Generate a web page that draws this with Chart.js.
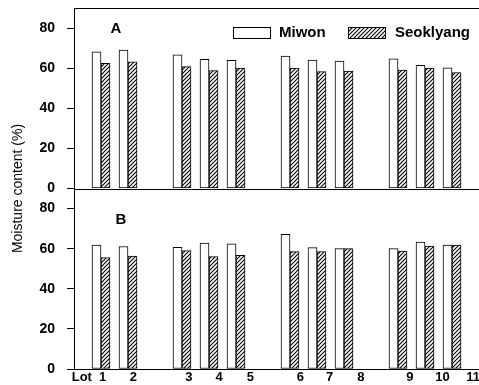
<!DOCTYPE html>
<html><head><meta charset="utf-8">
<script src="https://cdn.jsdelivr.net/npm/chart.js@4/dist/chart.umd.min.js"></script>
<style>html,body{margin:0;padding:0;background:#fff;}canvas{display:block;}</style>
</head><body>
<canvas id="c" width="479" height="385"></canvas>
<script>
// ---- data ----
const lots = ['1','2','3','4','5','6','7','8','9','10','11'];
const lotPositions = [1, 2, 4, 5, 6, 8, 9, 10, 12, 13, 14];
const miwonA      = [68.2, 69.0, 66.7, 64.4, 63.9, 66.0, 64.0, 63.5, 64.7, 61.4, 60.2];
const seoklyangA  = [62.4, 63.2, 60.8, 58.8, 60.0, 60.0, 58.3, 58.6, 59.0, 60.0, 57.8];
const miwonB      = [61.8, 61.1, 60.7, 62.8, 62.4, 67.2, 60.5, 60.0, 60.0, 63.3, 61.8];
const seoklyangB  = [55.5, 56.3, 59.1, 56.0, 56.7, 58.5, 58.5, 60.0, 58.8, 61.3, 61.8];
const xTickLabels = ['Lot','1','2','3','4','5','6','7','8','9','10','11'];
const yTickValues = [0, 20, 40, 60, 80];
const seriesNames = ['Miwon', 'Seoklyang'];
const panelNames = ['A', 'B'];
const yTitle = 'Moisture content (%)';

// ---- layout (label placement in x units) ----
const xTickPos = [0.29, 1.06, 2.2, 4.25, 5.37, 6.53, 8.38, 9.47, 10.62, 12.44, 13.65, 14.78];

const FONT = "'Liberation Sans', Arial, sans-serif";
const canvas = document.getElementById('c');
const mainCtx = canvas.getContext('2d');

function makeHatch() {
  const s = 4;
  const pc = document.createElement('canvas');
  pc.width = s; pc.height = s;
  const g = pc.getContext('2d');
  g.fillStyle = '#fff'; g.fillRect(0, 0, s, s);
  g.strokeStyle = '#000'; g.lineWidth = 1.1;
  g.beginPath();
  g.moveTo(0, s); g.lineTo(s, 0);
  g.moveTo(-1, 1); g.lineTo(1, -1);
  g.moveTo(s - 1, s + 1); g.lineTo(s + 1, s - 1);
  g.stroke();
  return mainCtx.createPattern(pc, 'repeat');
}
const hatch = makeHatch();

const pts = arr => arr.map((v, i) => ({x: lotPositions[i], y: v}));
const barStyle = {borderColor: '#000', borderWidth: 1, borderSkipped: false, barThickness: 9};

const yAxis = () => ({
  type: 'linear', position: 'left', stack: 'panels', stackWeight: 1,
  min: 0, max: 90,
  afterBuildTicks: s => { s.ticks = yTickValues.map(v => ({value: v})); },
  grid: {drawOnChartArea: false, drawTicks: true, tickLength: 7, color: '#000', lineWidth: 1},
  border: {display: true, color: '#000', width: 1},
  ticks: {padding: 12, color: '#000', font: {family: FONT, size: 14, weight: 'bold'}},
  afterFit: s => { s.width = 44; s.paddingTop = 0; s.paddingBottom = 0; }
});

const overlay = {
  id: 'overlay',
  afterDraw(chart) {
    const ctx = chart.ctx, ca = chart.chartArea;
    const yA = chart.scales.yA;
    ctx.save();
    ctx.strokeStyle = '#000'; ctx.lineWidth = 1;
    ctx.beginPath();
    const top = Math.round(ca.top) + 0.5;
    ctx.moveTo(ca.left, top); ctx.lineTo(ca.right, top);
    const mid = Math.round(yA.getPixelForValue(0)) + 0.5;
    ctx.moveTo(ca.left, mid); ctx.lineTo(ca.right, mid);
    ctx.stroke();

    ctx.fillStyle = '#000';
    // y title
    ctx.save();
    ctx.translate(18, (ca.top + ca.bottom) / 2);
    ctx.rotate(-Math.PI / 2);
    ctx.font = '14px ' + FONT;
    ctx.textAlign = 'center'; ctx.textBaseline = 'middle';
    ctx.fillText(yTitle, 0, 0);
    ctx.restore();

    // panel letters
    ctx.font = 'bold 15px ' + FONT;
    ctx.textAlign = 'center'; ctx.textBaseline = 'middle';
    ctx.fillText(panelNames[0], 116, 28.5);
    ctx.fillText(panelNames[1], 121, 220);

    // legend
    const boxes = [{x: 233, fill: '#fff', tx: 279}, {x: 348, fill: hatch, tx: 395}];
    ctx.textAlign = 'left';
    boxes.forEach((b, i) => {
      ctx.fillStyle = b.fill;
      ctx.fillRect(b.x, 27, 37, 11);
      ctx.strokeRect(b.x + 0.5, 27.5, 37, 11);
      ctx.fillStyle = '#000';
      ctx.fillText(seriesNames[i], b.tx, 33);
    });
    ctx.restore();
  }
};

new Chart(canvas, {
  type: 'bar',
  data: {
    datasets: [
      Object.assign({label: seriesNames[0], data: pts(miwonA), yAxisID: 'yA', stack: 'm', backgroundColor: '#fff'}, barStyle),
      Object.assign({label: seriesNames[1], data: pts(seoklyangA), yAxisID: 'yA', stack: 's', backgroundColor: hatch}, barStyle),
      Object.assign({label: seriesNames[0], data: pts(miwonB), yAxisID: 'yB', stack: 'm', backgroundColor: '#fff'}, barStyle),
      Object.assign({label: seriesNames[1], data: pts(seoklyangB), yAxisID: 'yB', stack: 's', backgroundColor: hatch}, barStyle)
    ]
  },
  options: {
    responsive: false, animation: false, devicePixelRatio: 1,
    layout: {padding: {left: 30, top: 8, right: 0, bottom: 0}},
    plugins: {legend: {display: false}, tooltip: {enabled: false}},
    scales: {
      x: {
        type: 'linear', min: 0, max: 15, offset: false,
        grid: {display: false, drawTicks: false, tickLength: 0},
        border: {display: true, color: '#000', width: 1},
        afterBuildTicks: s => { s.ticks = xTickPos.map(v => ({value: v})); },
        ticks: {autoSkip: false, maxRotation: 0, minRotation: 0, padding: 1, color: '#000',
          font: {family: FONT, size: 13, weight: 'bold'},
          callback: (v, i) => xTickLabels[i]},
        afterFit: s => { s.height = 16; s.paddingLeft = 0; s.paddingRight = 0; }
      },
      yB: yAxis(),
      yA: yAxis()
    }
  },
  plugins: [overlay]
});
</script>
</body></html>
